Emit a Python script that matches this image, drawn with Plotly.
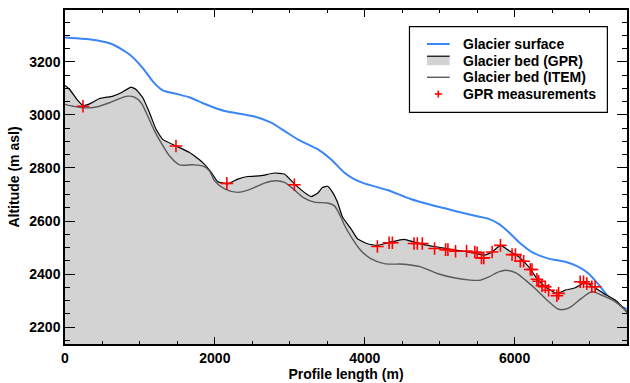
import plotly.graph_objects as go

# Glacier surface
surf_x = [0, 416, 639, 861, 1038, 1171, 1304, 1481, 1659, 1836, 1969, 2129, 2528, 2751, 2928, 3104,
          3371, 3549, 3726, 3859, 3992, 4302, 4613, 4880, 5190, 5500, 5655, 5788, 5922, 6055, 6232,
          6454, 6676, 6853, 6986, 7119, 7252, 7385, 7500]
surf_y = [3292, 3282, 3266, 3228, 3177, 3127, 3093, 3080, 3067, 3045, 3030, 3015, 2994, 2971, 2940, 2908,
          2871, 2833, 2783, 2758, 2742, 2717, 2683, 2661, 2639, 2618, 2608, 2589, 2558, 2521, 2483,
          2458, 2446, 2427, 2402, 2361, 2314, 2283, 2268]

# Glacier bed (GPR)
gpr_x = [0, 63, 150, 240, 329, 462, 639, 749, 882, 949, 1038, 1127, 1215, 1304, 1481, 1659, 1836, 1952,
         2040, 2173, 2306, 2439, 2617, 2794, 2928, 3061, 3194, 3283, 3371, 3438, 3504, 3571, 3637, 3703,
         3815, 3903, 4036, 4169, 4347, 4524, 4657, 4790, 4967, 5146, 5323, 5500, 5589, 5655, 5700, 5811,
         5922, 6055, 6188, 6298, 6410, 6564, 6676, 6809, 6942, 7052, 7186, 7342, 7475, 7500]
gpr_y = [3111, 3096, 3062, 3036, 3042, 3062, 3071, 3084, 3105, 3096, 3065, 3009, 2946, 2908, 2883, 2859,
         2821, 2783, 2748, 2740, 2758, 2768, 2771, 2781, 2777, 2740, 2708, 2692, 2705, 2727, 2731, 2708,
         2671, 2615, 2571, 2533, 2514, 2508, 2521, 2531, 2521, 2511, 2502, 2493, 2486, 2477, 2471, 2477,
         2483, 2508, 2489, 2465, 2427, 2383, 2352, 2327, 2339, 2348, 2368, 2352, 2327, 2302, 2264, 2255]

# Glacier bed (ITEM)
item_x = [0, 106, 240, 416, 595, 728, 838, 927, 1015, 1104, 1194, 1281, 1393, 1526, 1703, 1836, 1925,
          1996, 2129, 2306, 2484, 2661, 2817, 2928, 3038, 3194, 3327, 3504, 3593, 3682, 3726, 3836, 3948,
          4081, 4258, 4524, 4746, 4967, 5190, 5412, 5545, 5655, 5788, 5878, 6011, 6144, 6298, 6454, 6587,
          6720, 6897, 7030, 7163, 7342, 7475, 7500]
item_y = [3040, 3033, 3027, 3030, 3046, 3062, 3071, 3067, 3046, 2996, 2940, 2896, 2846, 2812, 2812, 2808,
          2790, 2752, 2721, 2708, 2721, 2743, 2752, 2746, 2723, 2686, 2671, 2668, 2658, 2615, 2586, 2533,
          2489, 2458, 2439, 2437, 2427, 2402, 2386, 2377, 2377, 2389, 2408, 2414, 2405, 2377, 2339, 2296,
          2267, 2271, 2309, 2333, 2320, 2296, 2264, 2257]

# GPR measurements
meas_x = [240, 1481, 2160, 3061, 4169, 4325, 4369, 4657, 4702, 4768, 4932, 5079, 5110, 5212, 5359,
          5469, 5500, 5558, 5589, 5700, 5811, 5966, 6011, 6077, 6121, 6210, 6232, 6298, 6321, 6365,
          6410, 6454, 6564, 6587, 6875, 6920, 6964, 7030, 7075]
meas_y = [3033, 2883, 2742, 2737, 2504, 2518, 2518, 2515, 2515, 2515, 2496, 2492, 2492, 2486, 2487,
          2483, 2480, 2461, 2461, 2483, 2508, 2473, 2473, 2448, 2448, 2417, 2417, 2380, 2373, 2356,
          2352, 2339, 2318, 2327, 2371, 2371, 2364, 2352, 2352]

legend_labels = ["Glacier surface", "Glacier bed (GPR)", "Glacier bed (ITEM)", "GPR measurements"]

font_family = "Liberation Sans, Arial, sans-serif"
BLUE = "#3a86f5"
FILL = "#d3d3d3"
ITEM = "#5a5a5a"

W, H = 630, 383
ML, MR, MT, MB = 65, 1, 10, 39
PW, PH = W - ML - MR, H - MT - MB


def px(xpix):
    return (xpix - ML) / PW


def py(ypix):
    return (H - MB - ypix) / PH


fig = go.Figure()
fig.add_trace(go.Scatter(x=surf_x, y=surf_y, mode="lines", name=legend_labels[0], showlegend=False,
                         line=dict(color=BLUE, width=2, shape="spline", smoothing=0.6)))
fig.add_trace(go.Scatter(x=gpr_x, y=gpr_y, mode="lines", name=legend_labels[1], showlegend=False,
                         fill="tozeroy", fillcolor=FILL,
                         line=dict(color="black", width=1.2, shape="spline", smoothing=0.4)))
fig.add_trace(go.Scatter(x=item_x, y=item_y, mode="lines", name=legend_labels[2], showlegend=False,
                         line=dict(color=ITEM, width=1.4, shape="spline", smoothing=0.8)))
fig.add_trace(go.Scatter(x=meas_x, y=meas_y, mode="markers", name=legend_labels[3], showlegend=False,
                         marker=dict(symbol="cross-thin", size=9, color="red",
                                     line=dict(color="red", width=1.6))))

# Hand-drawn legend (to match the compact row spacing of the original)
shapes = []
box_l, box_r, box_t, box_b = 410.7, 609.3, 26.7, 112.3
rows = [44, 60.7, 77.3, 94]
sx0, sx1, tx = 428.3, 451, 462
shapes.append(dict(type="rect", xref="paper", yref="paper", x0=px(box_l), x1=px(box_r),
                   y0=py(box_b), y1=py(box_t), line=dict(color="black", width=1.2), fillcolor="white",
                   layer="above"))
shapes.append(dict(type="line", xref="paper", yref="paper", x0=px(sx0), x1=px(sx1),
                   y0=py(rows[0]), y1=py(rows[0]), line=dict(color=BLUE, width=2), layer="above"))
shapes.append(dict(type="rect", xref="paper", yref="paper", x0=px(sx0), x1=px(sx1),
                   y0=py(rows[1] + 4.5), y1=py(rows[1] - 4.5), line=dict(width=0), fillcolor=FILL,
                   layer="above"))
shapes.append(dict(type="line", xref="paper", yref="paper", x0=px(sx0), x1=px(sx1),
                   y0=py(rows[1] - 4.5), y1=py(rows[1] - 4.5), line=dict(color="black", width=1.2),
                   layer="above"))
shapes.append(dict(type="line", xref="paper", yref="paper", x0=px(sx0), x1=px(sx1),
                   y0=py(rows[2]), y1=py(rows[2]), line=dict(color=ITEM, width=1.4), layer="above"))
cx = (sx0 + sx1) / 2
shapes.append(dict(type="line", xref="paper", yref="paper", x0=px(cx - 3.5), x1=px(cx + 3.5),
                   y0=py(rows[3]), y1=py(rows[3]), line=dict(color="red", width=1.6), layer="above"))
shapes.append(dict(type="line", xref="paper", yref="paper", x0=px(cx), x1=px(cx),
                   y0=py(rows[3] - 3.5), y1=py(rows[3] + 3.5), line=dict(color="red", width=1.6),
                   layer="above"))

annotations = []
for label, r in zip(legend_labels, rows):
    annotations.append(dict(text=label, xref="paper", yref="paper", x=px(tx), y=py(r),
                            xanchor="left", yanchor="middle", showarrow=False,
                            font=dict(family=font_family, size=14, color="black", weight="bold")))

fig.update_layout(
    width=W, height=H,
    margin=dict(l=ML, r=MR, t=MT, b=MB),
    plot_bgcolor="white", paper_bgcolor="white",
    font=dict(family=font_family, size=14, color="black"),
    showlegend=False,
    shapes=shapes,
    annotations=annotations,
)
fig.update_xaxes(range=[0, 7500], tickvals=[0, 2000, 4000, 6000], ticktext=["0", "2000", "4000", "6000"],
                 ticks="inside", ticklen=7, tickwidth=1.3, tickcolor="black",
                 minor=dict(dtick=500, tick0=0, ticks="inside", ticklen=3.5, tickwidth=1, tickcolor="black"),
                 showline=True, linecolor="black", linewidth=1.5, mirror="allticks",
                 showgrid=False, zeroline=False,
                 tickfont=dict(family=font_family, size=14, weight="bold"),
                 title=dict(text="Profile length (m)", standoff=4,
                            font=dict(family=font_family, size=14, weight="bold")))
fig.update_yaxes(range=[2136, 3396], tickvals=[2200, 2400, 2600, 2800, 3000, 3200],
                 ticks="inside", ticklen=10, tickwidth=1.3, tickcolor="black",
                 minor=dict(dtick=50, tick0=0, ticks="inside", ticklen=5, tickwidth=1, tickcolor="black"),
                 showline=True, linecolor="black", linewidth=1.5, mirror="allticks",
                 showgrid=False, zeroline=False,
                 tickfont=dict(family=font_family, size=14, weight="bold"),
                 title=dict(text="Altitude (m asl)", standoff=6,
                            font=dict(family=font_family, size=14, weight="bold")))

fig.write_html("out.html")
